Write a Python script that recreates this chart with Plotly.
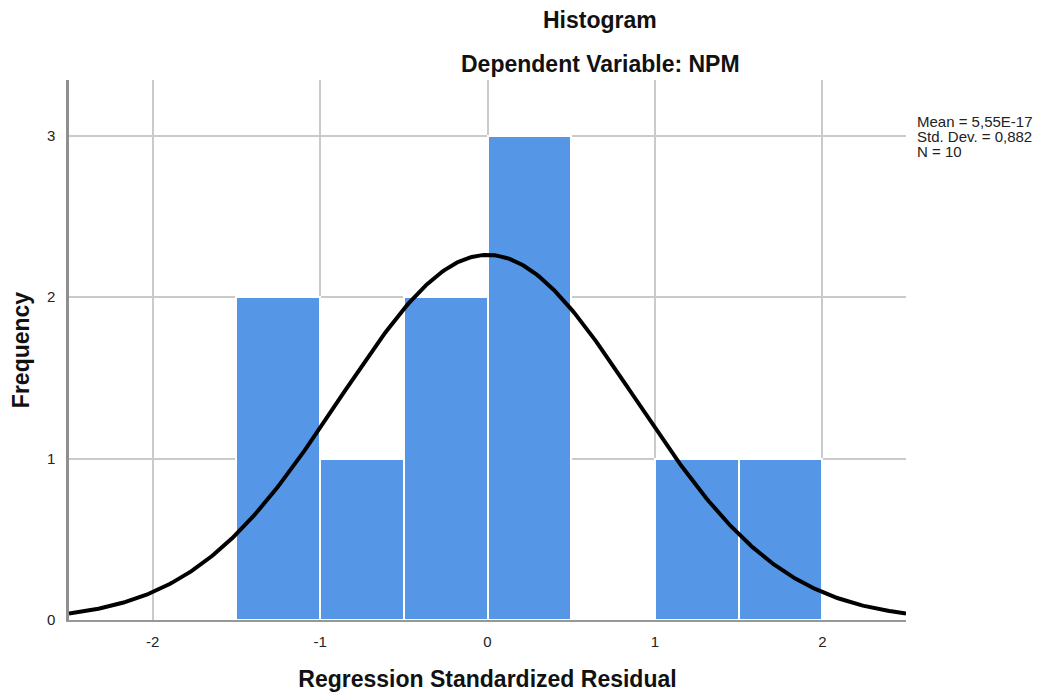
import numpy as np
import plotly.graph_objects as go

# Data
bin_left = [-1.5, -1.0, -0.5, 0.0, 0.5, 1.0, 1.5]
counts = [2, 1, 2, 3, 0, 1, 1]
bin_width = 0.5
mean = 5.55e-17
std_dev = 0.882
n_obs = 10
x_ticks = [-2, -1, 0, 1, 2]
y_ticks = [0, 1, 2, 3]
stats_lines = ["Mean = 5,55E-17", "Std. Dev. = 0,882", "N = 10"]

bar_centers = [b + bin_width / 2 for b in bin_left]

xs = np.linspace(-2.5, 2.5, 400)
curve = n_obs * bin_width * np.exp(-0.5 * ((xs - mean) / std_dev) ** 2) / (std_dev * np.sqrt(2 * np.pi))

FONT = "Liberation Sans, Arial, sans-serif"

# plot area in page pixels (page has 8px body margin)
PL, PR, PT, PB = 69, 906, 80, 620
OFF = 8
W, H = 1044 - OFF, 696 - OFF


def px_x(x):
    return (x - PL) / (PR - PL)


def px_y(y):
    return (PB - y) / (PB - PT)


fig = go.Figure()
fig.add_trace(go.Bar(
    x=bar_centers, y=counts, width=bin_width,
    marker=dict(color="#5596E6", line=dict(color="white", width=2)),
    hoverinfo="skip", showlegend=False,
))
fig.add_trace(go.Scatter(
    x=xs, y=curve, mode="lines",
    line=dict(color="black", width=4),
    hoverinfo="skip", showlegend=False,
))

fig.update_layout(
    width=W, height=H,
    margin=dict(l=PL - OFF, r=W - (PR - OFF), t=PT - OFF, b=H - (PB - OFF), pad=0,
                autoexpand=False),
    paper_bgcolor="white", plot_bgcolor="white",
    font=dict(family=FONT, color="#222", size=15),
    bargap=0,
    xaxis=dict(
        range=[-2.5, 2.5], tickvals=x_ticks, ticktext=[str(v) for v in x_ticks],
        automargin=False,
        showgrid=True, gridcolor="#CACACA", gridwidth=1.5,
        zeroline=False, showline=True, linecolor="#979797", linewidth=2,
        ticks="outside", ticklen=7, tickcolor="rgba(0,0,0,0)",
        tickfont=dict(family=FONT, size=15, color="#222"),
        title=dict(text="<b>Regression Standardized Residual</b>",
                   font=dict(family=FONT, size=23, color="#111"), standoff=22),
    ),
    yaxis=dict(
        range=[0, 3.345], tickvals=y_ticks, ticktext=[str(v) for v in y_ticks],
        automargin=False,
        showgrid=True, gridcolor="#CACACA", gridwidth=1.5,
        zeroline=False, showline=True, linecolor="#8F8F8F", linewidth=2.5,
        ticks="outside", ticklen=8, tickcolor="rgba(0,0,0,0)",
        tickfont=dict(family=FONT, size=15, color="#222"),
        title=dict(text="<b>Frequency</b>",
                   font=dict(family=FONT, size=23, color="#111"), standoff=14),
    ),
)

fig.add_annotation(
    text="<b>Histogram</b>", xref="paper", yref="paper",
    x=px_x(600), y=px_y(20),
    showarrow=False, font=dict(family=FONT, size=23, color="#111"),
    xanchor="center", yanchor="middle",
)
fig.add_annotation(
    text="<b>Dependent Variable: NPM</b>", xref="paper", yref="paper",
    x=px_x(600), y=px_y(64),
    showarrow=False, font=dict(family=FONT, size=23, color="#111"),
    xanchor="center", yanchor="middle",
)
for i, line in enumerate(stats_lines):
    fig.add_annotation(
        text=line, xref="paper", yref="paper",
        x=px_x(915), y=px_y(121 + i * 15.3),
        showarrow=False, align="left", xanchor="left", yanchor="middle",
        font=dict(family=FONT, size=15, color="#222"),
    )

fig.write_html("out.html")
